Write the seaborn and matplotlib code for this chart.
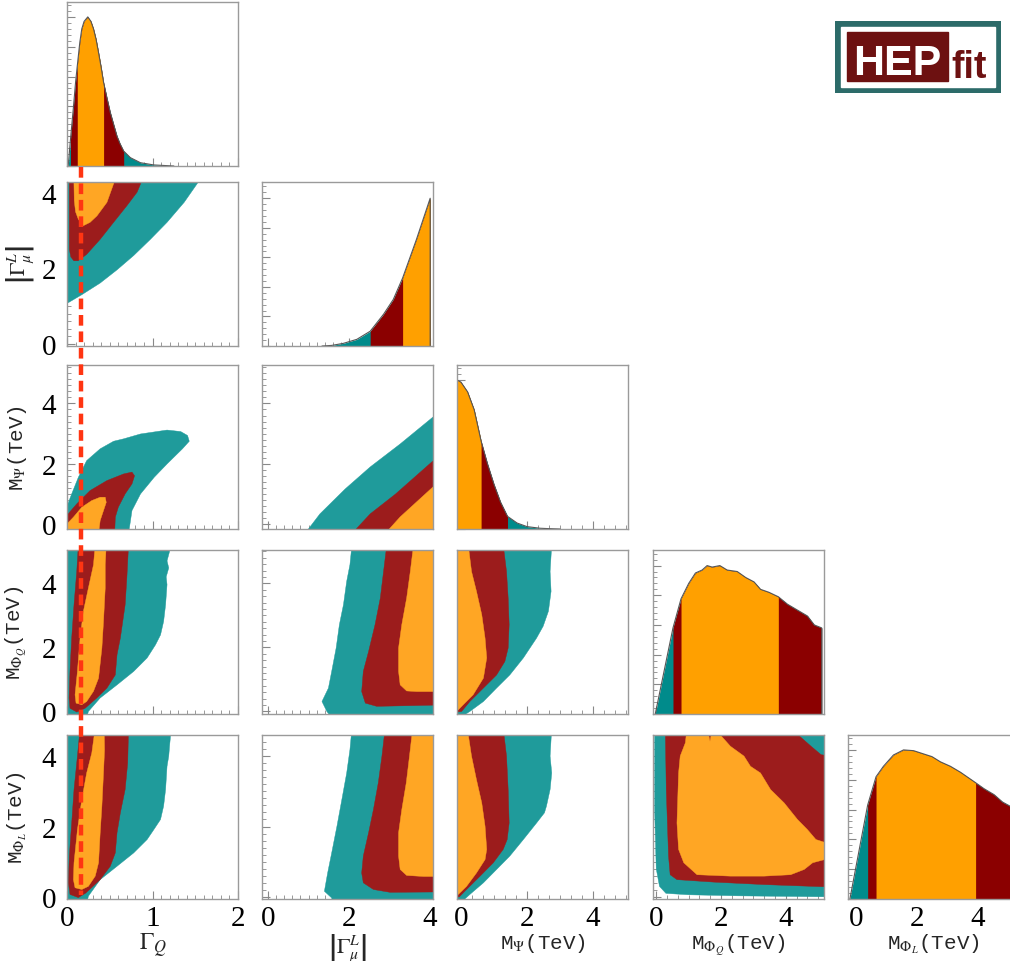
import numpy as np
import matplotlib
matplotlib.use("Agg")
import matplotlib.pyplot as plt
import seaborn as sns
from matplotlib import transforms
from matplotlib.lines import Line2D
from matplotlib.patches import Rectangle
from matplotlib.ticker import MultipleLocator

# colours of the 99.7 / 95 / 68 % regions
C1D = ["#008b8b", "#8b0000", "#ffa000"]
C2D = ["#1f9b9b", "#9c1c1c", "#ffa624"]

names = [r"$\Gamma_Q$", r"$\left|\Gamma^L_\mu\right|$", r"M$_\Psi$(TeV)",
         r"M$_{\Phi_Q}$(TeV)", r"M$_{\Phi_L}$(TeV)"]
col_lims = [(0, 2), (-0.15, 4.07), (-0.12, 5.06), (-0.1, 5.18), (-0.26, 5.36)]
row_lims = [None, (-0.06, 4.29), (-0.15, 5.27), (-0.08, 5.04), (-0.06, 4.6)]
diag_top = [1.10, 1.11, 1.10, 1.105, 1.10]
gq_ref = 0.16   # dashed reference value of Gamma_Q

# ---- 1D marginals: x, normalised density, (lo, hi) of 99.7/95/68 % ----
gq_x = [0.014, 0.041, 0.073, 0.10, 0.12, 0.15, 0.173, 0.20, 0.243, 0.28, 0.31, 0.34, 0.369,
        0.40, 0.428, 0.47, 0.506, 0.55, 0.585, 0.62, 0.663, 0.741, 0.859, 1.016, 1.25]
gq_p = [0.0, 0.18, 0.38, 0.56, 0.67, 0.83, 0.92, 0.97, 1.0, 0.97, 0.92, 0.85, 0.76,
        0.66, 0.56, 0.45, 0.36, 0.27, 0.20, 0.15, 0.10, 0.056, 0.022, 0.007, 0.0]
gq_cl = [(0.014, 1.25), (0.041, 0.663), (0.12, 0.428)]

gmu_x = [1.33, 1.57, 1.86, 2.19, 2.52, 2.85, 3.09, 3.32, 3.66, 3.83, 4.0, 4.0]
gmu_p = [0.0, 0.004, 0.018, 0.045, 0.10, 0.215, 0.315, 0.46, 0.72, 0.86, 1.0, 0.0]
gmu_cl = [(1.57, 4.0), (2.52, 4.0), (3.32, 4.0)]

mpsi_x = [-0.12, 0.0, 0.2, 0.4, 0.61, 0.8, 1.0, 1.2, 1.41, 1.7, 2.0, 2.4, 2.6, 3.0]
mpsi_p = [1.0, 0.985, 0.92, 0.80, 0.59, 0.44, 0.30, 0.18, 0.085, 0.04, 0.016, 0.005, 0.003, 0.0]
mpsi_cl = [(-0.12, 2.6), (-0.12, 1.41), (-0.12, 0.61)]

mphq_x = [-0.03, 0.517, 0.765, 1.003, 1.21, 1.416, 1.571, 1.726, 1.964, 2.19, 2.50, 2.76,
          3.02, 3.22, 3.48, 3.77, 4.05, 4.36, 4.67, 4.88, 5.11, 5.11]
mphq_p = [0.0, 0.58, 0.776, 0.88, 0.95, 0.97, 1.0, 0.99, 1.0, 0.97, 0.96, 0.92,
          0.89, 0.84, 0.82, 0.79, 0.74, 0.70, 0.66, 0.60, 0.58, 0.0]
mphq_cl = [(-0.03, 5.11), (0.517, 5.11), (0.765, 3.77)]

mphl_x = [-0.198, 0.386, 0.661, 0.904, 1.234, 1.565, 1.895, 2.226, 2.50, 2.777, 3.107,
          3.438, 3.934, 4.21, 4.54, 4.82, 5.09, 5.3]
mphl_p = [0.0, 0.63, 0.82, 0.89, 0.966, 1.0, 0.995, 0.973, 0.955, 0.92, 0.89,
          0.85, 0.78, 0.74, 0.70, 0.65, 0.62, 0.60]
mphl_cl = [(-0.198, 5.3), (0.386, 5.3), (0.661, 3.934)]

# ---- 2D credible regions (x list, y list) ----
gq_gmu_99 = ([-0.02, -0.02, 0.016, 0.173, 0.388, 0.585, 0.78, 0.976, 1.17, 1.37, 1.53, 1.56],
             [4.4, 1.09, 1.09, 1.30, 1.61, 1.96, 2.34, 2.77, 3.22, 3.75, 4.27, 4.4])
gq_gmu_95 = ([0.027, 0.027, 0.045, 0.08, 0.13, 0.23, 0.388, 0.545, 0.70, 0.82, 0.89],
             [4.4, 2.5, 2.3, 2.2, 2.2, 2.37, 2.77, 3.22, 3.66, 4.02, 4.4])
gq_gmu_68 = ([0.08, 0.085, 0.10, 0.133, 0.19, 0.27, 0.35, 0.467, 0.57],
             [4.4, 3.8, 3.5, 3.30, 3.13, 3.22, 3.39, 3.75, 4.4])

gq_mpsi_99 = ([-0.02, -0.02, 0.055, 0.133, 0.23, 0.388, 0.545, 0.663, 0.859, 1.17, 1.33, 1.41,
               1.43, 1.35, 1.17, 1.02, 0.86, 0.76, 0.72],
              [-0.3, 0.46, 1.01, 1.56, 2.11, 2.50, 2.75, 2.83, 2.99, 3.12, 3.07, 2.94,
               2.75, 2.50, 2.0, 1.56, 1.01, 0.46, -0.3])
gq_mpsi_95 = ([-0.02, -0.02, 0.114, 0.27, 0.467, 0.663, 0.76, 0.79, 0.76, 0.68, 0.60, 0.565, 0.557],
              [-0.3, 0.24, 0.68, 1.12, 1.45, 1.67, 1.73, 1.61, 1.34, 1.01, 0.57, 0.24, -0.3])
gq_mpsi_68 = ([-0.02, -0.02, 0.075, 0.173, 0.29, 0.388, 0.447, 0.459, 0.427, 0.388, 0.369],
              [-0.3, -0.04, 0.24, 0.57, 0.79, 0.90, 0.90, 0.73, 0.46, 0.13, -0.3])

gmu_mpsi_99 = ([0.91, 1.28, 1.90, 2.52, 3.26, 4.07, 4.2, 4.2],
               [-0.3, 0.35, 1.17, 1.90, 2.66, 3.55, 3.55, -0.3])
gmu_mpsi_95 = ([2.07, 2.52, 3.14, 4.07, 4.2, 4.2], [-0.3, 0.35, 1.0, 2.1, 2.1, -0.3])
gmu_mpsi_68 = ([2.89, 3.26, 4.07, 4.2, 4.2], [-0.3, 0.25, 1.24, 1.24, -0.3])

gq_mphq_99 = ([-0.02, -0.02, 1.20, 1.20, 1.17, 1.19, 1.16, 1.17, 1.153, 1.13, 1.094, 1.035,
               0.937, 0.78, 0.585, 0.388, 0.25, 0.23],
              [-0.2, 5.2, 5.2, 5.0, 4.7, 4.48, 4.2, 3.96, 3.33, 2.81, 2.39, 2.08,
               1.67, 1.25, 0.83, 0.42, 0.0, -0.2])
gq_mphq_95 = ([0.133, 0.114, 0.082, 0.055, 0.035, 0.024, 0.035, 0.114, 0.212, 0.349, 0.467,
               0.565, 0.585, 0.624, 0.68, 0.70, 0.72],
              [5.2, 4.37, 3.33, 2.29, 1.25, 0.42, 0.10, -0.02, 0.10, 0.42, 0.73,
               1.14, 1.77, 2.29, 3.33, 4.17, 5.2])
gq_mphq_68 = ([0.33, 0.31, 0.25, 0.192, 0.153, 0.122, 0.094, 0.106, 0.173, 0.23, 0.31, 0.369,
               0.408, 0.427, 0.447, 0.447, 0.459],
              [5.2, 4.58, 3.85, 3.13, 2.29, 1.25, 0.52, 0.26, 0.21, 0.31, 0.63, 1.04,
               1.98, 2.81, 3.85, 4.58, 5.2])

gmu_mphq_99 = ([2.07, 2.02, 1.94, 1.86, 1.76, 1.68, 1.57, 1.49, 1.33, 1.45, 1.57, 4.2, 4.2],
               [5.2, 4.58, 4.06, 3.33, 2.71, 1.98, 1.25, 0.73, 0.31, 0.0, -0.2, -0.2, 5.2])
gmu_mphq_95 = ([2.93, 2.85, 2.77, 2.64, 2.48, 2.35, 2.31, 2.40, 2.68, 3.5, 4.2, 4.2],
               [5.2, 4.37, 3.54, 2.71, 1.87, 1.25, 0.62, 0.26, 0.16, 0.18, 0.2, 5.2])
gmu_mphq_68 = ([3.59, 3.51, 3.42, 3.30, 3.22, 3.22, 3.26, 3.42, 3.67, 4.2, 4.2],
               [5.2, 4.37, 3.54, 2.71, 1.98, 1.25, 0.83, 0.64, 0.62, 0.62, 5.2])

mpsi_mphq_99 = ([-0.3, -0.3, 2.75, 2.70, 2.73, 2.65, 2.49, 2.29, 1.89, 1.48, 1.08, 0.68, 0.27, 0.12],
                [-0.1, 5.2, 5.2, 4.37, 3.75, 3.13, 2.66, 2.29, 1.67, 1.14, 0.73, 0.31, 0.0, -0.1])
mpsi_mphq_95 = ([-0.3, 1.28, 1.38, 1.43, 1.46, 1.43, 1.33, 1.08, 0.68, 0.27, 0.02, -0.3],
                [5.2, 5.2, 4.37, 3.54, 2.71, 1.98, 1.56, 1.14, 0.73, 0.31, 0.0, -0.05])
mpsi_mphq_68 = ([-0.3, 0.22, 0.32, 0.47, 0.63, 0.73, 0.78, 0.68, 0.37, 0.07, -0.08, -0.3],
                [5.2, 5.2, 4.37, 3.75, 3.02, 2.29, 1.67, 1.04, 0.52, 0.21, 0.05, 0.03])

gq_mphl_99 = ([-0.02, -0.02, 1.22, 1.2, 1.19, 1.17, 1.153, 1.13, 1.094, 1.015, 0.937, 0.78,
               0.585, 0.388, 0.25, 0.23],
              [-0.2, 4.8, 4.8, 4.3, 4.0, 3.71, 3.05, 2.58, 2.20, 1.91, 1.63, 1.25,
               0.87, 0.49, 0.02, -0.2])
gq_mphl_95 = ([0.153, 0.122, 0.082, 0.055, 0.027, 0.016, 0.035, 0.133, 0.22, 0.388, 0.506,
               0.565, 0.585, 0.624, 0.68, 0.71, 0.72],
              [4.8, 4.0, 3.05, 2.10, 1.16, 0.40, 0.07, -0.02, 0.11, 0.49, 0.87,
               1.25, 1.82, 2.39, 3.05, 3.81, 4.8])
gq_mphl_68 = ([0.33, 0.29, 0.23, 0.173, 0.122, 0.082, 0.075, 0.094, 0.173, 0.25, 0.33, 0.369,
               0.388, 0.408, 0.427, 0.439, 0.435],
              [4.8, 4.09, 3.52, 2.76, 1.91, 0.97, 0.49, 0.26, 0.21, 0.30, 0.59, 0.97,
               1.82, 2.58, 3.52, 4.18, 4.8])

gmu_mphl_99 = ([2.07, 2.02, 1.94, 1.82, 1.70, 1.57, 1.47, 1.39, 1.57, 1.6, 4.2, 4.2],
               [4.8, 4.18, 3.52, 2.76, 2.01, 1.25, 0.68, 0.16, -0.03, -0.2, -0.2, 4.8])
gmu_mphl_95 = ([2.89, 2.81, 2.72, 2.60, 2.48, 2.35, 2.31, 2.35, 2.60, 3.01, 4.2, 4.2],
               [4.8, 4.0, 3.24, 2.48, 1.82, 1.16, 0.68, 0.40, 0.21, 0.13, 0.14, 4.8])
gmu_mphl_68 = ([3.57, 3.49, 3.41, 3.30, 3.22, 3.22, 3.26, 3.42, 3.84, 4.2, 4.2],
               [4.8, 4.0, 3.24, 2.48, 1.82, 1.16, 0.78, 0.61, 0.58, 0.58, 4.8])

mpsi_mphl_99 = ([-0.3, -0.3, 2.75, 2.70, 2.75, 2.70, 2.59, 2.53, 2.29, 1.89, 1.48, 1.08, 0.68, 0.27, 0.07],
                [-0.1, 4.8, 4.8, 4.0, 3.52, 3.05, 2.58, 2.39, 2.10, 1.63, 1.16, 0.78, 0.40, 0.07, -0.1])
mpsi_mphl_95 = ([-0.3, 1.28, 1.38, 1.43, 1.46, 1.40, 1.28, 0.98, 0.58, 0.17, -0.05, -0.3],
                [4.8, 4.8, 4.0, 3.05, 2.10, 1.63, 1.35, 0.97, 0.59, 0.21, 0.0, -0.02])
mpsi_mphl_68 = ([-0.3, 0.19, 0.32, 0.47, 0.63, 0.73, 0.78, 0.73, 0.47, 0.17, -0.08, -0.3],
                [4.8, 4.8, 4.0, 3.33, 2.67, 2.01, 1.35, 1.06, 0.68, 0.30, 0.07, 0.05])

mphq_mphl_99 = ([-0.05, -0.05, 0.0, 0.1, 0.3, 1.0, 2.5, 5.4, 5.4],
                [4.8, 2.5, 0.8, 0.3, 0.1, 0.06, 0.03, 0.0, 4.8])
mphq_mphl_95 = ([0.28, 0.31, 0.38, 0.43, 0.64, 1.78, 3.33, 5.4, 5.4, 5.09, 4.78, 4.41, 4.35],
                [4.8, 3.05, 1.16, 0.63, 0.49, 0.42, 0.35, 0.28, 4.0, 4.04, 4.28, 4.58, 4.8])
mphq_mphl_68 = ([0.95, 1.57, 1.66, 1.74, 1.98, 2.29, 2.71, 2.91, 3.22, 3.53, 3.95, 4.36,
                 4.67, 4.93, 5.4, 5.4, 4.83, 4.57, 4.15, 3.33, 2.29, 1.26, 0.85, 0.69, 0.64,
                 0.69, 0.74, 0.90],
                [4.8, 4.8, 4.42, 4.8, 4.6, 4.28, 4.0, 3.71, 3.52, 3.05, 2.67, 2.20,
                 1.91, 1.63, 1.49, 1.11, 0.97, 0.78, 0.63, 0.59, 0.59, 0.63, 0.97, 1.35, 2.10,
                 3.52, 4.0, 4.38])

marginals = [(gq_x, gq_p, gq_cl), (gmu_x, gmu_p, gmu_cl), (mpsi_x, mpsi_p, mpsi_cl),
             (mphq_x, mphq_p, mphq_cl), (mphl_x, mphl_p, mphl_cl)]
regions = {
    (1, 0): [gq_gmu_99, gq_gmu_95, gq_gmu_68],
    (2, 0): [gq_mpsi_99, gq_mpsi_95, gq_mpsi_68],
    (2, 1): [gmu_mpsi_99, gmu_mpsi_95, gmu_mpsi_68],
    (3, 0): [gq_mphq_99, gq_mphq_95, gq_mphq_68],
    (3, 1): [gmu_mphq_99, gmu_mphq_95, gmu_mphq_68],
    (3, 2): [mpsi_mphq_99, mpsi_mphq_95, mpsi_mphq_68],
    (4, 0): [gq_mphl_99, gq_mphl_95, gq_mphl_68],
    (4, 1): [gmu_mphl_99, gmu_mphl_95, gmu_mphl_68],
    (4, 2): [mpsi_mphl_99, mpsi_mphl_95, mpsi_mphl_68],
    (4, 3): [mphq_mphl_99, mphq_mphl_95, mphq_mphl_68],
}

sns.set_style("ticks")
plt.rcParams["font.family"] = ["Liberation Serif", "DejaVu Serif"]
plt.rcParams["mathtext.fontset"] = "stix"

W, H = 1010, 962
fig = plt.figure(figsize=(W / 100, H / 100), dpi=100)
col_left = [67, 262, 457, 653, 848]
row_top = [3, 183, 366, 551, 736]
AW, AH = 171, 164
x_major = [1, 2, 2, 2, 2]
x_minor = [0.1, 0.2, 1 / 3, 1 / 3, 1 / 3]


def style(ax):
    for s in ax.spines.values():
        s.set_color("#9a9a9a")
        s.set_linewidth(1.0)
    ax.tick_params(which="both", direction="in", colors="#888888", top=False, right=False,
                   labelsize=21, labelcolor="black")
    ax.tick_params(which="major", length=6, width=0.8)
    ax.tick_params(which="minor", length=3, width=0.6)
    ax.tick_params(axis="x", pad=4)
    ax.tick_params(axis="y", pad=8)


def label_font(k):
    if k == 0:
        return dict(fontsize=17)
    if k == 1:
        return dict(fontsize=16)
    return dict(fontsize=15, family=["Liberation Mono", "DejaVu Sans Mono"])


axes = {}
for i in range(5):
    for j in range(i + 1):
        ax = fig.add_axes([col_left[j] / W, 1 - (row_top[i] + AH) / H, AW / W, AH / H])
        axes[i, j] = ax
        if i == j:
            x, p, cl = marginals[i]
            x = np.asarray(x)
            p = np.asarray(p)
            for (lo, hi), c in zip(cl, C1D):
                ax.fill_between(x, 0, p, where=(x >= lo) & (x <= hi), color=c, lw=0)
            sns.lineplot(x=x, y=p, ax=ax, color="#555555", lw=0.8,
                         estimator=None, sort=False, legend=False)
            ax.set_ylim(0, diag_top[i])
            ax.yaxis.set_major_locator(MultipleLocator(0.2))
            ax.yaxis.set_minor_locator(MultipleLocator(0.04))
        else:
            for (px, py), c in zip(regions[i, j], C2D):
                ax.fill(px, py, color=c, lw=0.3, ec=c)
            ax.set_ylim(*row_lims[i])
            ax.yaxis.set_major_locator(MultipleLocator(2))
            ax.yaxis.set_minor_locator(MultipleLocator(0.2))
        ax.set_xlim(*col_lims[j])
        ax.xaxis.set_major_locator(MultipleLocator(x_major[j]))
        ax.xaxis.set_minor_locator(MultipleLocator(x_minor[j]))
        style(ax)
        ax.set_xlabel("")
        ax.set_ylabel("")
        ax.tick_params(labelbottom=(i == 4), labelleft=(j == 0 and i > 0))
        if i == 4:
            ax.set_xlabel(names[j], **label_font(j))
            ax.xaxis.set_label_coords(0.5, -0.195)
        if j == 0 and i > 0:
            ax.set_ylabel(names[i], **label_font(i))
            ax.yaxis.set_label_coords(-0.18 if i == 1 else -0.225, 0.5)

# dashed reference line for Gamma_Q through the first column
trans = transforms.blended_transform_factory(axes[4, 0].transData, fig.transFigure)
fig.add_artist(Line2D([gq_ref, gq_ref], [1 - 168 / H, 1 - 896 / H], transform=trans,
                      color="#ff3512", lw=3.2, dashes=(2.4, 1.3), zorder=20))

# HEPfit logo
lax = fig.add_axes([835 / W, 1 - 94 / H, 166 / W, 72 / H])
lax.set_axis_off()
lax.set_xlim(0, 166)
lax.set_ylim(0, 72)
lax.add_patch(Rectangle((0, 0), 166, 72, color="#2c6b69"))
lax.add_patch(Rectangle((6, 6), 154, 60, color="white"))
lax.add_patch(Rectangle((12, 12), 101, 49, color="#6d1111"))
lax.text(62.5, 19, "HEP", color="white", fontsize=31, fontweight="bold",
         family="Liberation Sans", ha="center", va="baseline")
lax.text(116, 16, "fit", color="#6d1111", fontsize=27, fontweight="bold",
         family="Liberation Sans", ha="left", va="baseline")

fig.savefig("out.png", dpi=100)
